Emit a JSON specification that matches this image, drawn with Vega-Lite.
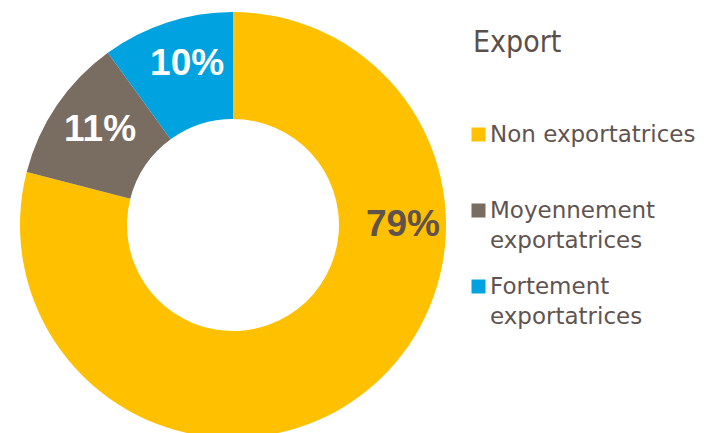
{
  "$schema": "https://vega.github.io/schema/vega-lite/v6.json",
  "width": 466,
  "height": 450,
  "padding": 0,
  "background": "white",
  "config": {"view": {"stroke": null}},
  "data": {
    "values": [
      {"category": "Non exportatrices", "value": 79, "label": "79%", "order": 1},
      {"category": "Moyennement exportatrices", "value": 11, "label": "11%", "order": 2},
      {"category": "Fortement exportatrices", "value": 10, "label": "10%", "order": 3}
    ]
  },
  "encoding": {
    "theta": {"field": "value", "type": "quantitative", "stack": true},
    "order": {"field": "order", "type": "quantitative"}
  },
  "layer": [
    {
      "mark": {"type": "arc", "radius": 213, "radius2": 106},
      "encoding": {
        "color": {
          "field": "category",
          "type": "nominal",
          "sort": ["Non exportatrices", "Moyennement exportatrices", "Fortement exportatrices"],
          "scale": {
            "domain": ["Non exportatrices", "Moyennement exportatrices", "Fortement exportatrices"],
            "range": ["#FFC000", "#796D62", "#00A2DF"]
          },
          "legend": {
            "title": "Export",
            "orient": "none",
            "legendX": 467,
            "legendY": 28,
            "padding": 0,
            "titleFont": "DejaVu Sans Condensed",
            "titleFontSize": 30,
            "titleFontWeight": "normal",
            "titleColor": "#5C4F4A",
            "titlePadding": 65,
            "titleLimit": 300,
            "symbolType": "square",
            "symbolSize": 196,
            "symbolStrokeWidth": 0,
            "symbolOpacity": 1,
            "labelFont": "DejaVu Sans",
            "labelFontSize": 23,
            "labelColor": "#5F5450",
            "labelLimit": 300,
            "labelOffset": 0,
            "rowPadding": 22,
            "labelExpr": "datum.label == 'Non exportatrices' ? ['Non exportatrices', ' '] : split(datum.label, ' ')",
            "encode": {
              "labels": {"update": {"lineHeight": {"value": 30}}},
              "title": {"update": {"dx": {"value": 6}}}
            }
          }
        }
      }
    },
    {
      "mark": {"type": "text", "radius": 168, "dx": 6, "dy": -1, "font": "Liberation Sans", "fontSize": 37, "fontWeight": "bold", "color": "#FFFFFF"},
      "encoding": {
        "text": {"field": "label", "type": "nominal"},
        "opacity": {"condition": {"test": "datum.label == '79%'", "value": 0}, "value": 1}
      }
    },
    {
      "transform": [{"filter": "datum.label == '79%'"}],
      "mark": {"type": "text", "radius": 170, "font": "Liberation Sans", "fontSize": 37, "fontWeight": "bold", "color": "#5F524C"},
      "encoding": {
        "text": {"field": "label", "type": "nominal"},
        "theta": {"value": 1.5708}
      }
    }
  ]
}
